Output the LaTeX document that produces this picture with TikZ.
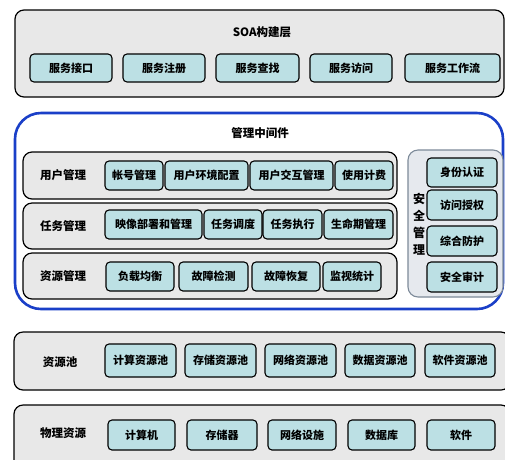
\documentclass[tikz,border=0pt]{standalone}
\usepackage{fontspec}
\setmainfont{Noto Sans CJK SC}
\usetikzlibrary{positioning}
\definecolor{layergray}{HTML}{E8E8E8}
\definecolor{itemblue}{HTML}{BCE0E4}
\definecolor{midblue}{HTML}{1A3FC8}
\definecolor{secgray}{HTML}{E6E9EE}
\definecolor{secline}{HTML}{7D8A99}
\tikzset{
  layer/.style={draw=black, line width=1.2pt, fill=layergray, rounded corners=9pt},
  item/.style={draw=black, line width=1.1pt, fill=itemblue, rounded corners=4pt,
    inner sep=0pt, minimum height=#1, font=\bfseries\fontsize{11}{13}\selectfont},
  item/.default=29pt,
  ltitle/.style={font=\bfseries\fontsize{11.5}{13}\selectfont},
}
\begin{document}
\begin{tikzpicture}[x=1pt,y=-1pt]
        \clip (0,0) rectangle (505,459);
        \fill[white] (0,0) rectangle (505,459);
        % SOA layer
        \draw[layer] (15,10) rectangle (504,97);
        \node[ltitle] (soa) at (262,32) {SOA构建层};
        \node[item=28pt, minimum width=82pt] (svcif) at (71,68) {服务接口};
        \node[item=28pt, minimum width=82pt] (svcreg) at (164,68) {服务注册};
        \node[item=28pt, minimum width=83pt] (svcfind) at (257.5,68) {服务查找};
        \node[item=28pt, minimum width=82pt] (svcacc) at (351,68) {服务访问};
        \node[item=28pt, minimum width=95pt] (svcflow) at (452.5,68) {服务工作流};
        % management middleware
        \draw[midblue, line width=2.6pt, rounded corners=26pt] (15,113) rectangle (503,309);
        \node[ltitle] (mw) at (260,133) {管理中间件};
        \draw[layer] (23,152) rectangle (397,199);
        \node[ltitle] (user) at (63,175) {用户管理};
        \node[item, minimum width=58pt] (acct) at (134,175.5) {帐号管理};
        \node[item, minimum width=83pt] (uenv) at (206.5,175.5) {用户环境配置};
        \node[item, minimum width=83pt] (uint) at (291.5,175.5) {用户交互管理};
        \node[item, minimum width=58pt] (bill) at (364,175.5) {使用计费};
        \draw[layer] (23,203) rectangle (397,249);
        \node[ltitle] (task) at (63,226) {任务管理};
        \node[item, minimum width=97pt] (image) at (153.5,224.5) {映像部署和管理};
        \node[item, minimum width=58pt] (sched) at (233,224.5) {任务调度};
        \node[item, minimum width=59pt] (exec) at (292.5,224.5) {任务执行};
        \node[item, minimum width=69pt] (life) at (358.5,224.5) {生命期管理};
        \draw[layer] (23,253) rectangle (397,299);
        \node[ltitle] (res) at (63,276) {资源管理};
        \node[item, minimum width=68pt] (lb) at (140,276.5) {负载均衡};
        \node[item, minimum width=69pt] (fdet) at (213.5,276.5) {故障检测};
        \node[item, minimum width=68pt] (frec) at (286,276.5) {故障恢复};
        \node[item, minimum width=58pt] (mon) at (352,276.5) {监视统计};
        % security
        \draw[draw=secline, line width=1.1pt, fill=secgray, rounded corners=10pt] (408,150) rectangle (503,297);
        \node[ltitle, align=center, font=\bfseries\fontsize{12}{17}\selectfont] (sec) at (419,224) {安\\全\\管\\理};
        \node[item, minimum width=70pt] (auth) at (462,172.5) {身份认证};
        \node[item=30pt, minimum width=70pt] (authz) at (462,205) {访问授权};
        \node[item=30pt, minimum width=70pt] (prot) at (462,241) {综合防护};
        \node[item=30pt, minimum width=70pt] (audit) at (462,277) {安全审计};
        % resource pool
        \draw[layer] (14,332) rectangle (510,390);
        \node[ltitle] (pool) at (60,362) {资源池};
        \node[item=33pt, minimum width=71pt] (cpool) at (140.5,360.5) {计算资源池};
        \node[item=33pt, minimum width=71pt] (spool) at (220.5,360.5) {存储资源池};
        \node[item=33pt, minimum width=71pt] (npool) at (300.5,360.5) {网络资源池};
        \node[item=33pt, minimum width=70pt] (dpool) at (380,360.5) {数据资源池};
        \node[item=33pt, minimum width=70pt] (wpool) at (460,360.5) {软件资源池};
        % physical resources
        \draw[layer] (14,405) rectangle (510,475);
        \node[ltitle] (phys) at (63,433) {物理资源};
        \node[item=30pt, minimum width=67pt] (comp) at (141.5,435) {计算机};
        \node[item=30pt, minimum width=70pt] (stor) at (222,435) {存储器};
        \node[item=30pt, minimum width=68pt] (net) at (302,435) {网络设施};
        \node[item=30pt, minimum width=67pt] (db) at (381.5,435) {数据库};
        \node[item=30pt, minimum width=68pt] (soft) at (461,435) {软件};
\end{tikzpicture}
\end{document}
